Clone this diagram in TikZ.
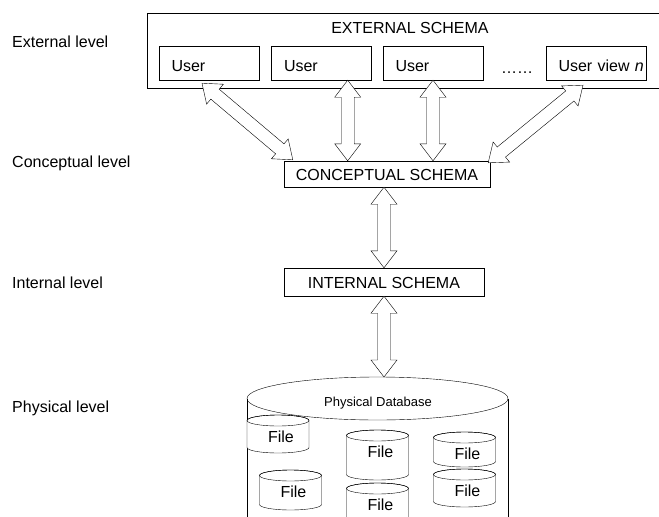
\documentclass[tikz,border=0pt]{standalone}
\usepackage{fontspec}
\setmainfont{Liberation Sans}
\usetikzlibrary{calc}

% sizes of the hollow double arrows
\def\headlen{17pt}
\def\headhalf{13pt}
\def\shafthalf{6.5pt}

% hollow double arrow from #1 to #2
\newcommand\fatarrow[2]{%
  \draw[fill=white] let \p1=(#1), \p2=(#2), \n1={atan2(\y2-\y1,\x2-\x1)} in
    (\p1) -- ($(\p1)+(\n1:\headlen)+(\n1+90:\headhalf)$)
    -- ($(\p1)+(\n1:\headlen)+(\n1+90:\shafthalf)$)
    -- ($(\p2)+(\n1+180:\headlen)+(\n1+90:\shafthalf)$)
    -- ($(\p2)+(\n1+180:\headlen)+(\n1+90:\headhalf)$)
    -- (\p2)
    -- ($(\p2)+(\n1+180:\headlen)+(\n1-90:\headhalf)$)
    -- ($(\p2)+(\n1+180:\headlen)+(\n1-90:\shafthalf)$)
    -- ($(\p1)+(\n1:\headlen)+(\n1-90:\shafthalf)$)
    -- ($(\p1)+(\n1:\headlen)+(\n1-90:\headhalf)$) -- cycle;}

% small file cylinder: name, centre x, top y, bottom y
\newcommand\filecyl[4]{%
  \filldraw[fill=white] (#2-31,#3+5.5) -- (#2-31,#4-5.5)
    arc[start angle=180,end angle=0,x radius=31,y radius=5.5]
    -- (#2+31,#3+5.5) arc[start angle=0,end angle=-180,x radius=31,y radius=5.5] -- cycle;
  \draw (#2,#3+5.5) ellipse[x radius=31,y radius=5.5];
  \node (#1) at (#2+3,#3+22) {File};}

\begin{document}
\begin{tikzpicture}[x=1pt,y=-1pt,
    every node/.style={font=\fontsize{16}{19}\selectfont},
    schema/.style={draw,fill=white,inner sep=0pt,text height=13pt,text depth=0pt},
    userbox/.style={draw,fill=white,minimum height=34pt,text width=75pt,inner xsep=12.5pt,
      inner ysep=0pt,align=left,text height=17pt,text depth=0pt},
    level/.style={anchor=west,inner sep=0pt}]
  \useasboundingbox (0,0) rectangle (659,517);
  \clip (0,0) rectangle (659,517);

  % Levels
  \node[level] (lvlext) at (12,42) {External level};
  \node[level] (lvlcon) at (12,163) {Conceptual level};
  \node[level] (lvlint) at (12,283) {Internal level};
  \node[level] (lvlphy) at (12,408) {Physical level};

  % External schema with the user views
  \node[draw,anchor=north west,minimum width=526pt,minimum height=75pt,inner sep=0pt] (ext) at (147,13) {};
  \node (exttitle) at (410,28) {EXTERNAL SCHEMA};
  \node[userbox] (user1) at (209,63) {User};
  \node[userbox] (user2) at (321.5,63) {User};
  \node[userbox] (user3) at (433,63) {User};
  \node[userbox] (user4) at (596,63) {\mbox{User view \textit{n}}};
  \node[anchor=base] (dots) at (517,73) {……};

  % Conceptual and internal schema
  \node[schema,minimum width=206pt,minimum height=26pt] (concept) at (387,174) {CONCEPTUAL SCHEMA};
  \node[schema,minimum width=200pt,minimum height=28pt] (internal) at (384,282) {INTERNAL SCHEMA};

  % Physical database
  \filldraw[fill=white] (247,398.5) -- (247,540) -- (508,540) -- (508,398.5);
  \draw (377.5,398.5) ellipse[x radius=130.5,y radius=21.5];
  \node[font=\fontsize{13}{15}\selectfont] (db) at (378,403) {Physical Database};
  \coordinate (dbtop) at (internal.south |- 0,377);
  \filecyl{file1}{278}{415}{453}
  \filecyl{file2}{290.5}{470}{510}
  \filecyl{file3}{377.5}{430}{480}
  \filecyl{file4}{377.5}{483}{545}
  \filecyl{file5}{464.5}{432}{467}
  \filecyl{file6}{464.5}{469}{507}

  % Mappings between the levels
  \coordinate (u1end) at ($(user1.south)+(-7,3)$);
  \coordinate (c1end) at ($(concept.north west)+(9,-1)$);
  \coordinate (u2end) at ($(user2.south east)+(-24,0)$);
  \coordinate (u3end) at (user3.south);
  \coordinate (u4end) at ($(user4.south)+(-13,5)$);
  \coordinate (c4end) at ($(concept.north east)+(-2,2)$);
  \fatarrow{u1end}{c1end}
  \fatarrow{u2end}{u2end |- concept.north}
  \fatarrow{u3end}{u3end |- concept.north}
  \fatarrow{u4end}{c4end}
  \fatarrow{internal.north |- concept.south}{internal.north}
  \fatarrow{internal.south}{dbtop}
\end{tikzpicture}
\end{document}
